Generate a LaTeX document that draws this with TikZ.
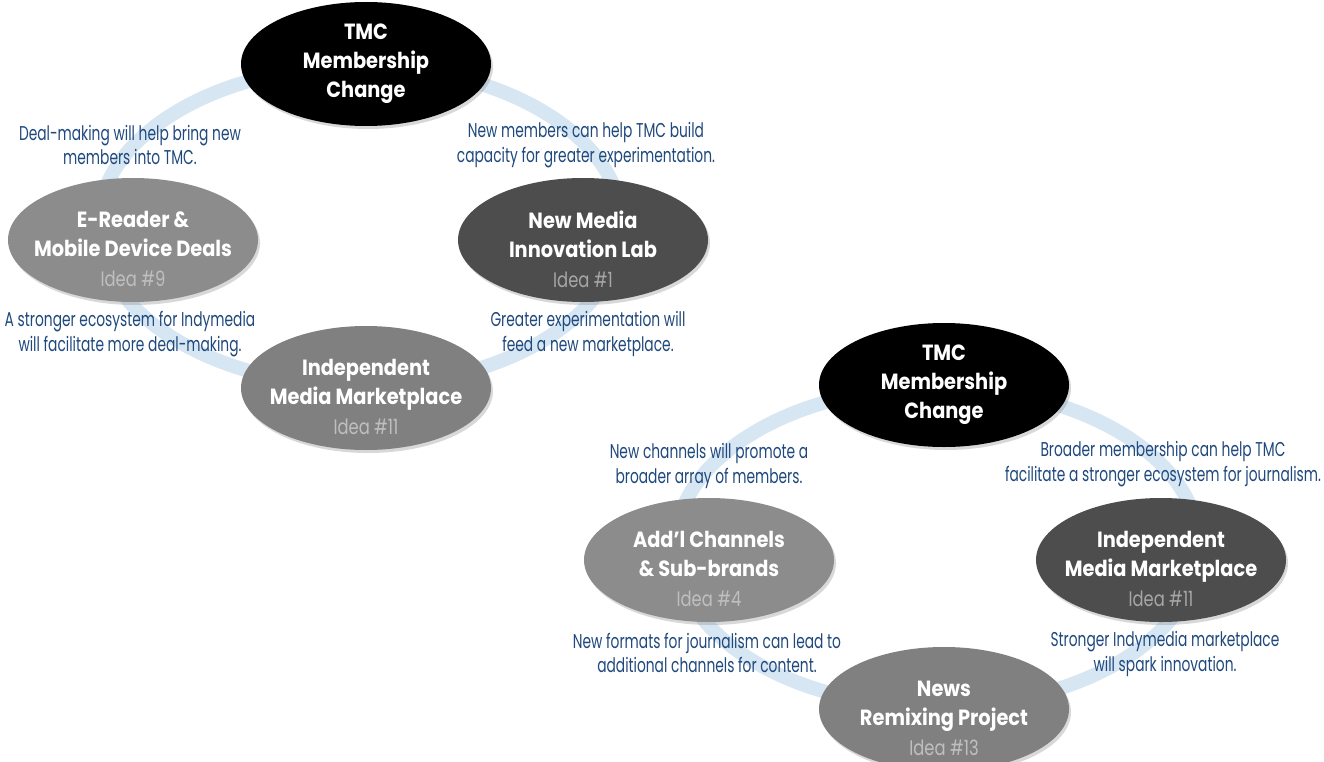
\documentclass[tikz,border=0pt]{standalone}
\usepackage{fontspec}
\setmainfont{Poppins}[FakeStretch=0.69]
\newfontfamily\ttlfont{Poppins}[FakeStretch=0.88]
\newfontfamily\ideafont{Poppins}[FakeStretch=0.78]
\usetikzlibrary{shapes.geometric,shadows}
\definecolor{ringc}{HTML}{D7E6F3}
\definecolor{lblc}{HTML}{1F497D}
\definecolor{darkc}{HTML}{4D4D4D}
\definecolor{midc}{HTML}{808080}
\definecolor{lightc}{HTML}{8C8C8C}
\definecolor{ideadk}{HTML}{A6A6A6}
\definecolor{idealt}{HTML}{BFBFBF}
\newcommand\ideatxt[2]{{\color{#1}\ideafont\mdseries\fontsize{21}{29}\selectfont Idea \##2}}
\tikzset{
  oval/.style={ellipse, minimum width=250pt, minimum height=124pt, inner sep=0pt,
    drop shadow={opacity=0.3, shadow xshift=2pt, shadow yshift=-3pt}},
  ttl/.style={align=center, text=white, inner sep=0pt, font=\ttlfont\bfseries\fontsize{22}{29}\selectfont},
  lbl/.style={align=center, text=lblc, inner sep=0pt, font=\fontsize{20}{24.5}\selectfont},
  ringline/.style={draw=ringc, line width=14pt},
}
\begin{document}
\begin{tikzpicture}[x=1pt,y=-1pt]
\useasboundingbox (0,0) rectangle (1324,762);
\clip (0,0) rectangle (1324,762);
\fill[white] (0,0) rectangle (1324,762);
% ---------- diagram 1 ----------
\coordinate (r1) at (360,226);
\draw[ringline] (r1) ellipse [x radius=262pt, y radius=160pt];
\node[oval, fill=black] (tmca) at (366,64) {};
\node[ttl] (tmcat) at (tmca.center) {TMC\\Membership\\Change};
\node[oval, fill=lightc] (erd) at (133,240) {};
\node[ttl] (erdt) at ([yshift=-9pt]erd.center) {E-Reader \&\\Mobile Device Deals\\[1pt]\ideatxt{idealt}{9}};
\node[oval, fill=darkc] (nml) at (583,240) {};
\node[ttl] (nmlt) at ([yshift=-9pt]nml.center) {New Media\\Innovation Lab\\[1pt]\ideatxt{ideadk}{1}};
\node[oval, fill=midc] (ima) at (366,388) {};
\node[ttl] (imat) at ([yshift=-9pt]ima.center) {Independent\\Media Marketplace\\[1pt]\ideatxt{idealt}{11}};
\node[lbl] (la1) at (130,145) {Deal-making will help bring new\\members into TMC.};
\node[lbl] (la2) at (586,145) {New members can help TMC build\\capacity for greater experimentation.};
\node[lbl] (la3) at (130,334) {A stronger ecosystem for Indymedia\\will facilitate more deal-making.};
\node[lbl] (la4) at (588,334) {Greater experimentation will\\feed a new marketplace.};
% ---------- diagram 2 ----------
\coordinate (r2) at (937,547);
\draw[ringline] (r2) ellipse [x radius=262pt, y radius=160pt];
\node[oval, fill=black] (tmcb) at (944,385) {};
\node[ttl] (tmcbt) at (tmcb.center) {TMC\\Membership\\Change};
\node[oval, fill=lightc] (adc) at (709,560) {};
\node[ttl] (adct) at ([yshift=-9pt]adc.center) {Add’l Channels\\\& Sub-brands\\[1pt]\ideatxt{idealt}{4}};
\node[oval, fill=darkc] (imb) at (1161,560) {};
\node[ttl] (imbt) at ([yshift=-9pt]imb.center) {Independent\\Media Marketplace\\[1pt]\ideatxt{ideadk}{11}};
\node[oval, fill=midc] (nrp) at (944,709) {};
\node[ttl] (nrpt) at ([yshift=-9pt]nrp.center) {News\\Remixing Project\\[1pt]\ideatxt{idealt}{13}};
\node[lbl] (lb1) at (709,466) {New channels will promote a\\broader array of members.};
\node[lbl] (lb2) at (1163,464) {Broader membership can help TMC\\facilitate a stronger ecosystem for journalism.};
\node[lbl] (lb3) at (707,653) {New formats for journalism can lead to\\additional channels for content.};
\node[lbl] (lb4) at (1165,654) {Stronger Indymedia marketplace\\will spark innovation.};
\end{tikzpicture}
\end{document}
